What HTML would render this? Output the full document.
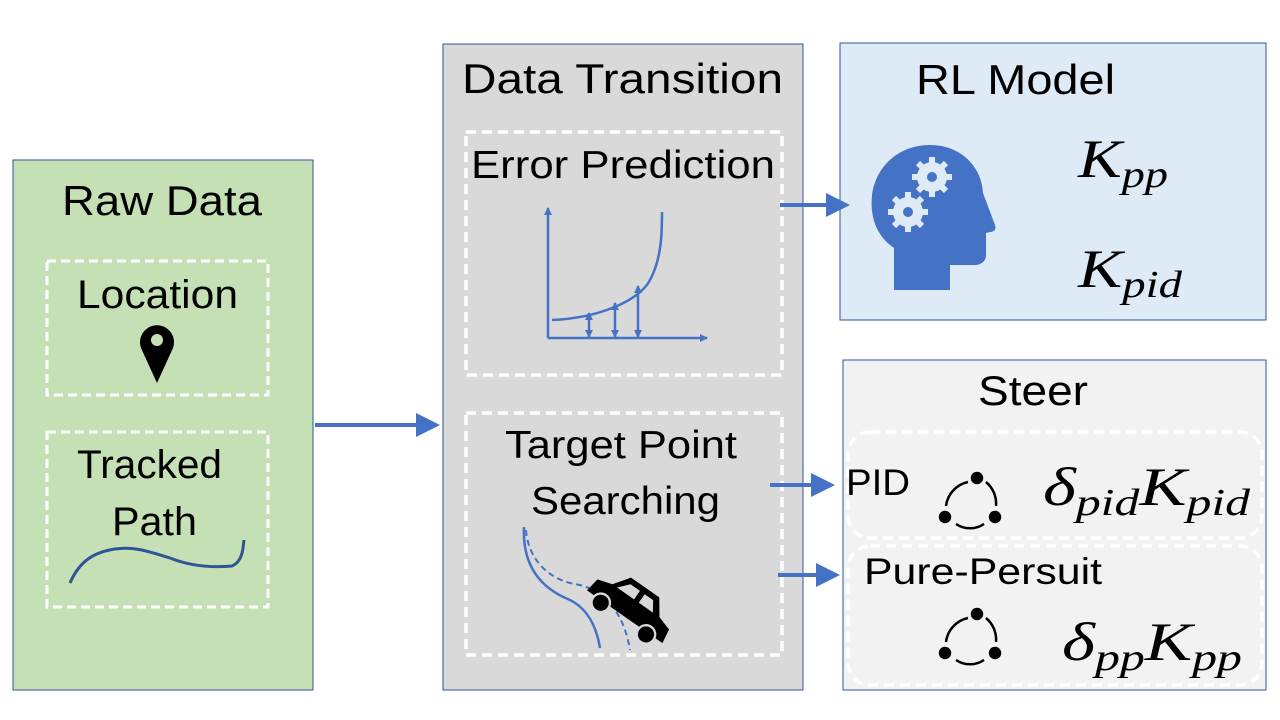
<!DOCTYPE html>
<html><head><meta charset="utf-8"><style>
html,body{margin:0;padding:0;background:#fff;}
svg{display:block;}
text{font-family:"Liberation Sans",sans-serif;fill:#000;}
.m{font-family:"Liberation Serif",serif;font-style:italic;}
</style></head><body>
<svg width="1280" height="720" viewBox="0 0 1280 720" xmlns="http://www.w3.org/2000/svg">
<defs>
<marker id="ah" markerWidth="6" markerHeight="6" refX="5" refY="3" orient="auto" markerUnits="strokeWidth"><path d="M0,0 L6,3 L0,6 z" fill="#4472c4"/></marker>
<marker id="sa" markerWidth="8" markerHeight="8" refX="7" refY="4" orient="auto" markerUnits="userSpaceOnUse"><path d="M0,0 L8,4 L0,8 z" fill="#4472c4"/></marker>
<marker id="sb" markerWidth="8" markerHeight="8" refX="7" refY="4" orient="auto-start-reverse" markerUnits="userSpaceOnUse"><path d="M0,0 L8,4 L0,8 z" fill="#4472c4"/></marker>
</defs>
<!-- Raw Data -->
<rect x="13" y="160" width="300" height="530" fill="#c5e0b4" stroke="#2f5597" stroke-width="1"/>
<text x="62" y="215" font-size="42" textLength="200" lengthAdjust="spacingAndGlyphs">Raw Data</text>
<rect x="47" y="261" width="221" height="134" fill="none" stroke="#fff" stroke-width="3" stroke-dasharray="9,5"/>
<text x="77" y="308" font-size="40" textLength="161" lengthAdjust="spacingAndGlyphs">Location</text>
<path d="M157,383 L141,348 A17,17 0 1 1 173,348 Z" fill="#000"/>
<circle cx="157" cy="340" r="6" fill="#c5e0b4"/>
<rect x="47" y="432" width="221" height="175" fill="none" stroke="#fff" stroke-width="3" stroke-dasharray="9,5"/>
<text x="77" y="478" font-size="40" textLength="145" lengthAdjust="spacingAndGlyphs">Tracked</text>
<text x="112" y="535" font-size="40" textLength="85" lengthAdjust="spacingAndGlyphs">Path</text>
<path d="M70,583 C80,560 95,552 115,549 C135,546 150,552 170,558 C190,566 210,568 232,566 C242,562 243,550 244,540" fill="none" stroke="#2f5597" stroke-width="3"/>
<line x1="315" y1="425" x2="436" y2="425" stroke="#4472c4" stroke-width="4" marker-end="url(#ah)"/>
<!-- Data Transition -->
<rect x="443" y="44" width="360" height="646" fill="#d9d9d9" stroke="#2f5597" stroke-width="1"/>
<text x="462" y="93" font-size="42" textLength="321" lengthAdjust="spacingAndGlyphs">Data Transition</text>
<rect x="466" y="132" width="316" height="243" fill="none" stroke="#fff" stroke-width="3.5" stroke-dasharray="10,6"/>
<text x="471" y="178" font-size="39" textLength="304" lengthAdjust="spacingAndGlyphs">Error Prediction</text>
<g stroke="#4472c4" stroke-width="2.5" fill="none">
<line x1="548" y1="338" x2="548" y2="208" marker-end="url(#sa)"/>
<line x1="548" y1="338" x2="707" y2="338" marker-end="url(#sa)"/>
<path d="M552,320 C600,318 640,300 650,280 C662,258 662,230 662,212"/>
<line x1="589" y1="313" x2="589" y2="337" marker-start="url(#sb)" marker-end="url(#sa)"/>
<line x1="615" y1="303" x2="615" y2="337" marker-start="url(#sb)" marker-end="url(#sa)"/>
<line x1="638" y1="286" x2="638" y2="337" marker-start="url(#sb)" marker-end="url(#sa)"/>
</g>
<rect x="466" y="413" width="316" height="242" fill="none" stroke="#fff" stroke-width="3.5" stroke-dasharray="10,6"/>
<text x="505" y="458" font-size="39" textLength="232" lengthAdjust="spacingAndGlyphs">Target Point</text>
<text x="531" y="514" font-size="39" textLength="189" lengthAdjust="spacingAndGlyphs">Searching</text>
<path d="M524,527 C522,570 545,590 570,600 C590,610 597,630 600,648" fill="none" stroke="#4472c4" stroke-width="2.5"/>
<path d="M526,530 C528,560 550,580 575,584 C610,590 625,620 630,650" fill="none" stroke="#4472c4" stroke-width="2" stroke-dasharray="6,4"/>
<g transform="translate(628,612) rotate(35) scale(1.15)">
<path d="M-40,5 L-38,-8 L-25,-12 L-15,-26 L15,-26 L25,-12 L38,-8 L40,5 Z" fill="#000"/>
<path d="M-12,-21 L-2,-21 L-2,-12 L-20,-12 Z M3,-21 L12,-21 L18,-12 L3,-12 Z" fill="#d9d9d9"/>
<circle cx="-24" cy="7" r="8" fill="#000" stroke="#d9d9d9" stroke-width="2"/>
<circle cx="24" cy="7" r="8" fill="#000" stroke="#d9d9d9" stroke-width="2"/>
</g>
<!-- RL Model -->
<rect x="840" y="43" width="426" height="277" fill="#deebf7" stroke="#2f5597" stroke-width="1"/>
<text x="916" y="94" font-size="42" textLength="199" lengthAdjust="spacingAndGlyphs">RL Model</text>
<path d="M894,290 L894,248 C875,235 870,215 872,195 C876,165 900,145 930,145 C962,145 982,168 983,193 L995,225 C997,230 993,232 990,232 L986,233 L986,255 C986,262 980,265 975,265 L950,265 L950,290 Z" fill="#4472c4"/>
<g fill="#deebf7">
<circle cx="932" cy="177" r="15"/><circle cx="908" cy="212" r="15"/>
<g stroke="#deebf7" stroke-width="6">
<line x1="932" y1="157" x2="932" y2="197"/><line x1="912" y1="177" x2="952" y2="177"/><line x1="918" y1="163" x2="946" y2="191"/><line x1="946" y1="163" x2="918" y2="191"/>
<line x1="908" y1="192" x2="908" y2="232"/><line x1="888" y1="212" x2="928" y2="212"/><line x1="894" y1="198" x2="922" y2="226"/><line x1="922" y1="198" x2="894" y2="226"/>
</g>
<circle cx="932" cy="177" r="5" fill="#4472c4"/><circle cx="908" cy="212" r="5" fill="#4472c4"/>
</g>
<text class="m" x="1078" y="177" font-size="54" textLength="90" lengthAdjust="spacingAndGlyphs">K<tspan font-size="38" dy="10">pp</tspan></text>
<text class="m" x="1078" y="287" font-size="54" textLength="104" lengthAdjust="spacingAndGlyphs">K<tspan font-size="38" dy="10">pid</tspan></text>
<line x1="780" y1="205" x2="846" y2="205" stroke="#4472c4" stroke-width="4" marker-end="url(#ah)"/>
<!-- Steer -->
<rect x="843" y="360" width="423" height="330" fill="#f2f2f2" stroke="#2f5597" stroke-width="1"/>
<text x="978" y="405" font-size="42" textLength="110" lengthAdjust="spacingAndGlyphs">Steer</text>
<rect x="848" y="432" width="414" height="106" rx="22" fill="none" stroke="#fff" stroke-width="3.5" stroke-dasharray="10,6"/>
<rect x="848" y="546" width="414" height="139" rx="22" fill="none" stroke="#fff" stroke-width="3.5" stroke-dasharray="10,6"/>
<text x="846" y="495" font-size="37" textLength="64" lengthAdjust="spacingAndGlyphs">PID</text>
<text x="864" y="584" font-size="37" textLength="238" lengthAdjust="spacingAndGlyphs">Pure-Persuit</text>
<g fill="#000" stroke="#000" stroke-width="2.5">
<circle cx="977" cy="478" r="5"/><circle cx="945" cy="517" r="5"/><circle cx="995" cy="517" r="5"/>
<path d="M968,482 A28,28 0 0 0 946,506 M986,482 A28,28 0 0 1 996,506 M956,524 A25,25 0 0 0 984,524" fill="none"/>
<circle cx="977" cy="614" r="5"/><circle cx="945" cy="653" r="5"/><circle cx="995" cy="653" r="5"/>
<path d="M968,618 A28,28 0 0 0 946,642 M986,618 A28,28 0 0 1 996,642 M956,660 A25,25 0 0 0 984,660" fill="none"/>
</g>
<text class="m" x="1043" y="505" font-size="54" textLength="207" lengthAdjust="spacingAndGlyphs">δ<tspan font-size="38" dy="10">pid</tspan><tspan dy="-10">K</tspan><tspan font-size="38" dy="10">pid</tspan></text>
<text class="m" x="1062" y="660" font-size="54" textLength="180" lengthAdjust="spacingAndGlyphs">δ<tspan font-size="38" dy="10">pp</tspan><tspan dy="-10">K</tspan><tspan font-size="38" dy="10">pp</tspan></text>
<line x1="770" y1="485" x2="831" y2="485" stroke="#4472c4" stroke-width="4" marker-end="url(#ah)"/>
<line x1="778" y1="575" x2="836" y2="575" stroke="#4472c4" stroke-width="4" marker-end="url(#ah)"/>
</svg>
</body></html>
